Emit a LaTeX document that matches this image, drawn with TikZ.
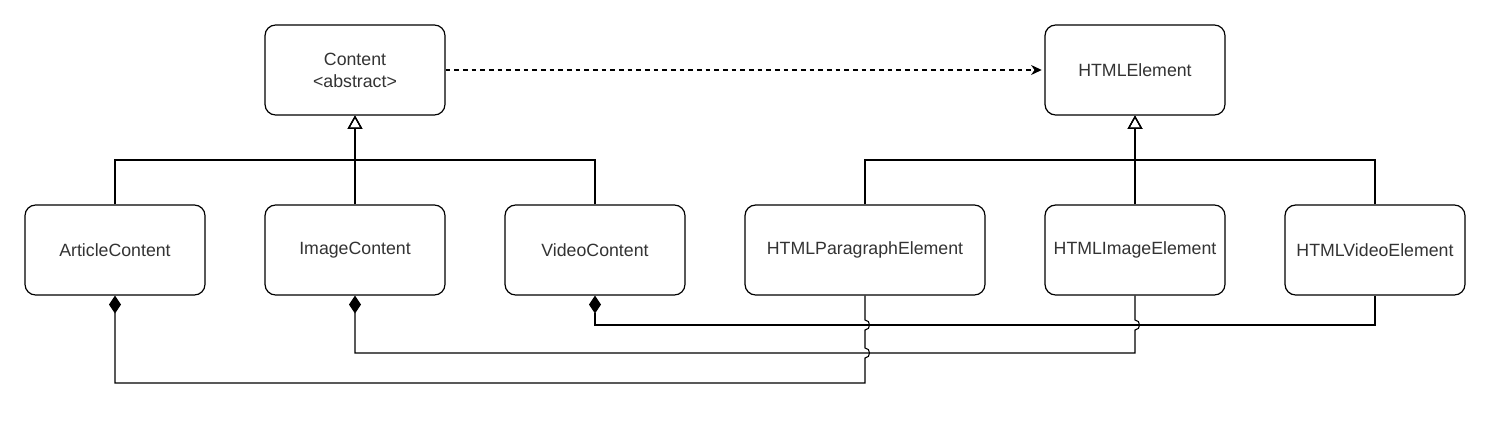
\documentclass[tikz,border=0pt]{standalone}
\usepackage{fontspec}
\setmainfont{Liberation Sans}
\usetikzlibrary{arrows.meta}

\tikzset{
  cls/.style={draw=black, line width=0.9pt, rounded corners=8pt, fill=white,
    minimum width=135pt, minimum height=67.5pt, align=center, text=black!80,
    font=\fontsize{13.3pt}{16.5pt}\selectfont},
  inh/.style={line width=0.8pt, -{Triangle[open, length=10pt, width=11pt, line width=0.9pt]}},
  comp/.style={line width=0.8pt, {Diamond[length=13.5pt, width=9pt]}-},
  dep/.style={line width=0.8pt, dash pattern=on 3.5pt off 3pt, -{Stealth[length=8pt, width=7.5pt]}, shorten >=2pt}
}

\begin{document}
\begin{tikzpicture}[x=0.75pt, y=-0.75pt]
 \useasboundingbox (0,0) rectangle (1491,428);
 \begin{scope}[every node/.append style={cls}]
    \node (content) at (355,70) {Content\\\textless abstract\textgreater};
    \node (htmlel) at (1135,70) {HTMLElement};

    \node (article) at (115,250) {ArticleContent};
    \node (image) at (355,250) {ImageContent};
    \node (video) at (595,250) {VideoContent};
    \node[minimum width=180pt] (para) at (865,250) {HTMLParagraphElement};
    \node (himage) at (1135,250) {HTMLImageElement};
    \node (hvideo) at (1375,250) {HTMLVideoElement};
 \end{scope}

 \coordinate (lbus) at (355,160);
 \coordinate (rbus) at (1135,160);

 % generalisation
 \draw[inh] (article.north) |- (lbus) -- (content.south);
 \draw[inh] (video.north) |- (lbus) -- (content.south);
 \draw[inh] (image.north) -- (content.south);

 \draw[inh] (para.north) |- (rbus) -- (htmlel.south);
 \draw[inh] (hvideo.north) |- (rbus) -- (htmlel.south);
 \draw[inh] (himage.north) -- (htmlel.south);

 % realisation
 \draw[dep] (content.east) -- (htmlel.west);

 % composition
 \draw[comp] (video.south) -- (595,325) -- (1375,325) -- (hvideo.south);
 \draw[comp] (image.south) -- (355,353) -- (1135,353) -- (1135,330)
    .. controls (1141,330) and (1141,320) .. (1135,320) -- (himage.south);
 \draw[comp] (article.south) -- (115,383) -- (865,383) -- (865,358)
    .. controls (871,358) and (871,348) .. (865,348) -- (865,330)
    .. controls (871,330) and (871,320) .. (865,320) -- (para.south);
\end{tikzpicture}
\end{document}
